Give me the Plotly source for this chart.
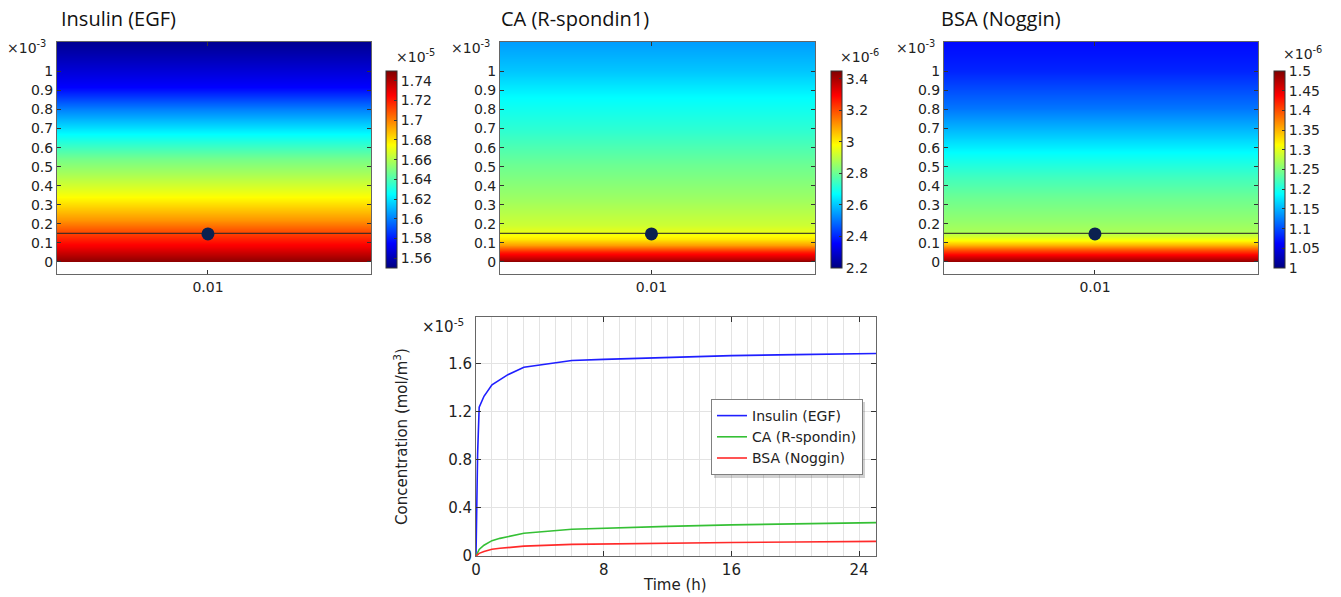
import plotly.graph_objects as go

W, H = 1341, 597

# ---- vertical concentration profiles (height in 1e-3 m) ----
ins_h = [0, 0.005, 0.08, 0.15, 0.22, 0.29, 0.34, 0.39, 0.46, 0.54, 0.67, 0.80, 0.92, 1.04, 1.16]
ins_c = [1.748, 1.747, 1.728, 1.712, 1.696, 1.684, 1.675, 1.668, 1.658, 1.648, 1.625, 1.600, 1.575, 1.564, 1.553]  # x1e-5

ca_h = [0, 0.005, 0.018, 0.053, 0.088, 0.12, 0.15, 0.195, 0.336, 0.513, 0.69, 0.858, 1.0, 1.18]
ca_c = [3.44, 3.43, 3.375, 3.26, 3.10, 3.01, 2.96, 2.92, 2.86, 2.80, 2.725, 2.67, 2.60, 2.54]  # x1e-6

bsa_h = [0, 0.005, 0.03, 0.061, 0.09, 0.113, 0.14, 0.16, 0.217, 0.339, 0.443, 0.565, 0.687, 0.81, 1.0, 1.17]
bsa_c = [1.49, 1.488, 1.45, 1.40, 1.35, 1.31, 1.285, 1.27, 1.26, 1.24, 1.22, 1.19, 1.155, 1.12, 1.08, 1.065]  # x1e-6

panel_titles = ["Insulin (EGF)", "CA (R-spondin1)", "BSA (Noggin)"]
cbar_ranges = [(1.55, 1.75), (2.2, 3.45), (1.0, 1.5)]
cbar_ticks = [
    ["1.56", "1.58", "1.6", "1.62", "1.64", "1.66", "1.68", "1.7", "1.72", "1.74"],
    ["2.2", "2.4", "2.6", "2.8", "3", "3.2", "3.4"],
    ["1", "1.05", "1.1", "1.15", "1.2", "1.25", "1.3", "1.35", "1.4", "1.45", "1.5"],
]
cbar_exp = ["-5", "-6", "-6"]

# cross-section extent and probe
x_span = [0.005, 0.0154]
x_tick = [0.01]
y_ticks = [0, 0.1, 0.2, 0.3, 0.4, 0.5, 0.6, 0.7, 0.8, 0.9, 1.0]
y_ticklabels = ["0", "0.1", "0.2", "0.3", "0.4", "0.5", "0.6", "0.7", "0.8", "0.9", "1"]
probe_x = 0.01
probe_y = 0.147
interface_y = 0.15

# ---- time series at probe ----
t_h = [0, 0.1, 0.2, 0.5, 1, 1.5, 2, 3, 6, 8, 12, 16, 20, 25.06]
c_ins = [0, 0.85, 1.24, 1.33, 1.425, 1.47, 1.51, 1.572, 1.628, 1.637, 1.655, 1.668, 1.677, 1.686]
c_ca = [0, 0.03, 0.055, 0.09, 0.128, 0.147, 0.161, 0.189, 0.223, 0.232, 0.247, 0.259, 0.268, 0.278]
c_bsa = [0, 0.012, 0.022, 0.038, 0.056, 0.064, 0.07, 0.082, 0.097, 0.101, 0.107, 0.112, 0.117, 0.122]
t_ticks = [0, 8, 16, 24]
c_ticks = [0, 0.4, 0.8, 1.2, 1.6]
c_ticklabels = ["0", "0.4", "0.8", "1.2", "1.6"]
series_names = ["Insulin (EGF)", "CA (R-spondin)", "BSA (Noggin)"]
series_colors = ["#1f1fff", "#35c035", "#ff2a2a"]

JET = [[0, "rgb(0,0,128)"], [0.125, "rgb(0,0,255)"], [0.375, "rgb(0,255,255)"],
       [0.625, "rgb(255,255,0)"], [0.875, "rgb(255,0,0)"], [1, "rgb(128,0,0)"]]

TICKFONT = dict(family="DejaVu Sans", size=14, color="#222")
TITLEFONT = dict(family="Open Sans", size=20, color="#111")
AXLINE = "#666"


def px(x):
    return x / W


def py(y):
    return 1 - y / H


# panel boxes in pixels: (left, right)
panel_x = [(57, 371), (500, 815), (944, 1258)]
panel_top, panel_bot = 42, 274
cbar_left = [386, 831, 1274]
cbar_top, cbar_bot = 71, 268
exp3_x = [5, 449, 894]
title_x = [59, 499, 939]
cexp_x = [394, 838, 1281]
cexp_y = [56, 56, 53]

profiles = [(ins_h, ins_c), (ca_h, ca_c), (bsa_h, bsa_c)]

fig = go.Figure()
layout = dict(
    width=W, height=H, margin=dict(l=0, r=0, t=0, b=0, autoexpand=False),
    paper_bgcolor="white", plot_bgcolor="white", showlegend=True,
)
annotations = []
shapes = []

for i, (hs, cs) in enumerate(profiles):
    n = i + 1
    xa = "x" if n == 1 else f"x{n}"
    ya = "y" if n == 1 else f"y{n}"
    lo, hi = cbar_ranges[i]
    tickvals = [float(t) for t in cbar_ticks[i]]
    fig.add_trace(go.Heatmap(
        x=x_span, y=hs, z=[[c, c] for c in cs],
        zmin=lo, zmax=hi, colorscale=JET, zsmooth="best",
        xaxis=xa, yaxis=ya, showlegend=False, hoverinfo="skip",
        colorbar=dict(
            x=px(cbar_left[i]), xanchor="left", xpad=0,
            y=py((cbar_top + cbar_bot) / 2), yanchor="middle", ypad=0,
            len=(cbar_bot - cbar_top) / H, lenmode="fraction",
            thickness=11, thicknessmode="pixels",
            outlinewidth=1, outlinecolor="#333",
            tickvals=tickvals, ticktext=cbar_ticks[i],
            ticks="inside", ticklen=3, tickcolor="#333",
            tickfont=TICKFONT,
        ),
    ))
    fig.add_trace(go.Scatter(
        x=x_span, y=[interface_y, interface_y], mode="lines",
        line=dict(color="rgba(40,40,40,0.85)", width=1.2),
        xaxis=xa, yaxis=ya, showlegend=False, hoverinfo="skip",
    ))
    fig.add_trace(go.Scatter(
        x=[probe_x], y=[probe_y], mode="markers",
        marker=dict(size=13, color="#0b2150"),
        xaxis=xa, yaxis=ya, showlegend=False, hoverinfo="skip",
    ))
    l, r = panel_x[i]
    xkey = "xaxis" if n == 1 else f"xaxis{n}"
    ykey = "yaxis" if n == 1 else f"yaxis{n}"
    layout[xkey] = dict(
        domain=[px(l), px(r)], range=x_span, anchor=ya, automargin=False,
        tickvals=x_tick, ticktext=["0.01"], ticks="inside", ticklen=4,
        tickcolor="#333", showline=True, linecolor=AXLINE, linewidth=1,
        mirror="ticks", showgrid=False, zeroline=False, tickfont=TICKFONT,
    )
    layout[ykey] = dict(
        domain=[py(panel_bot), py(panel_top)], range=[-0.063, 1.154], anchor=xa,
        automargin=False,
        tickvals=y_ticks, ticktext=y_ticklabels, ticks="inside", ticklen=4,
        tickcolor="#333", showline=True, linecolor=AXLINE, linewidth=1,
        mirror="ticks", showgrid=False, zeroline=False, tickfont=TICKFONT,
    )
    annotations.append(dict(
        text=panel_titles[i], x=px(title_x[i]), y=py(18), xref="paper", yref="paper",
        xanchor="left", yanchor="middle", showarrow=False, font=TITLEFONT,
    ))
    annotations.append(dict(
        text="×10<sup>-3</sup>", x=px(exp3_x[i]), y=py(47), xref="paper", yref="paper",
        xanchor="left", yanchor="middle", showarrow=False,
        font=dict(family="DejaVu Sans", size=14, color="#222"),
    ))
    annotations.append(dict(
        text=f"×10<sup>{cbar_exp[i]}</sup>", x=px(cexp_x[i]), y=py(cexp_y[i]),
        xref="paper", yref="paper",
        xanchor="left", yanchor="middle", showarrow=False,
        font=dict(family="DejaVu Sans", size=14, color="#222"),
    ))

# ---- bottom time-series chart ----
for name, ys, col in zip(series_names, [c_ins, c_ca, c_bsa], series_colors):
    fig.add_trace(go.Scatter(
        x=t_h, y=ys, mode="lines", name=name,
        line=dict(color=col, width=1.6), xaxis="x4", yaxis="y4",
    ))

bl, br, bt, bb = 476, 876, 317, 556
BIGTICK = dict(family="DejaVu Sans", size=15, color="#222")
layout["xaxis4"] = dict(
    domain=[px(bl), px(br)], range=[0, 25.06], anchor="y4", automargin=False,
    tickvals=t_ticks, ticks="inside", ticklen=5, tickcolor="#333",
    showline=True, linecolor=AXLINE, linewidth=1, mirror="ticks",
    showgrid=True, gridcolor="#e3e3e3", gridwidth=1, zeroline=False,
    minor=dict(dtick=1, showgrid=True, gridcolor="#e3e3e3", gridwidth=1, ticks=""),
    tickfont=BIGTICK,
)
layout["yaxis4"] = dict(
    domain=[py(bb), py(bt)], range=[0, 1.99], anchor="x4", automargin=False,
    tickvals=c_ticks, ticktext=c_ticklabels, ticks="inside", ticklen=5, tickcolor="#333",
    showline=True, linecolor=AXLINE, linewidth=1, mirror="ticks",
    showgrid=True, gridcolor="#e3e3e3", gridwidth=1, zeroline=False,
    tickfont=BIGTICK,
)
layout["legend"] = dict(
    x=px(711), y=py(399), xanchor="left", yanchor="top",
    bgcolor="white", bordercolor="#808080", borderwidth=1,
    font=dict(family="DejaVu Sans", size=14, color="#222"),
)
# soft drop shadow behind the legend box
shapes.append(dict(
    type="rect", xref="paper", yref="paper", layer="above",
    x0=px(714), x1=px(865), y0=py(402), y1=py(478),
    fillcolor="rgba(0,0,0,0.18)", line=dict(width=0),
))
annotations.append(dict(
    text="×10<sup>-5</sup>", x=px(420), y=py(326), xref="paper", yref="paper",
    xanchor="left", yanchor="middle", showarrow=False,
    font=dict(family="DejaVu Sans", size=15, color="#222"),
))
annotations.append(dict(
    text="Concentration (mol/m<sup>3</sup>)", x=px(401), y=py(437), xref="paper", yref="paper",
    xanchor="center", yanchor="middle", textangle=-90, showarrow=False,
    font=dict(family="DejaVu Sans", size=15, color="#222"),
))
annotations.append(dict(
    text="Time (h)", x=px(675), y=py(585), xref="paper", yref="paper",
    xanchor="center", yanchor="middle", showarrow=False,
    font=dict(family="DejaVu Sans", size=15, color="#222"),
))

layout["annotations"] = annotations
layout["shapes"] = shapes
fig.update_layout(**layout)
fig.write_html("out.html")
